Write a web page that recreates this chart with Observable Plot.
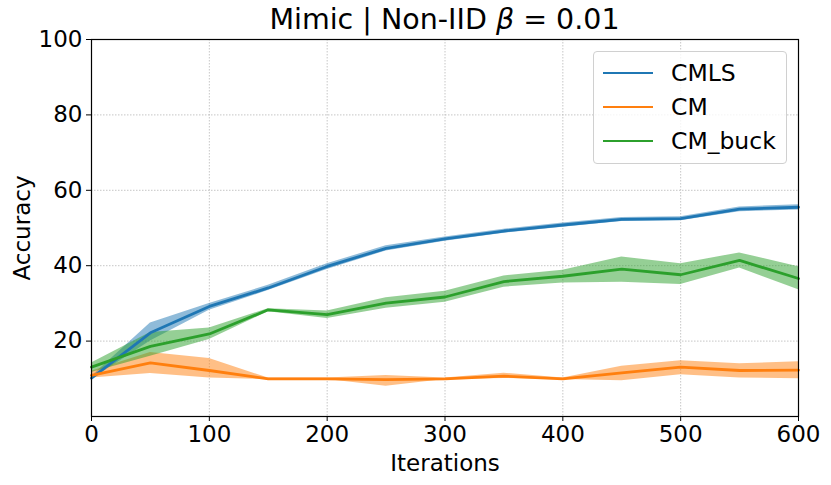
<!DOCTYPE html>
<html><head><meta charset="utf-8">
<script src="https://cdn.jsdelivr.net/npm/d3@7"></script>
<script src="https://cdn.jsdelivr.net/npm/@observablehq/plot@0.6"></script>
<style>
body{margin:0;font-family:"DejaVu Sans",sans-serif;background:#fff}
#wrap{position:relative;width:831px;height:485px}
#title{position:absolute;top:3px;left:91px;width:707px;text-align:center;font-size:28.5px;color:#000;line-height:34px}
#legend{position:absolute;left:593px;top:51px;width:194px;height:113px;border:1px solid #d0d0d0;border-radius:4px;background:rgba(255,255,255,0.8);box-sizing:border-box}
.row{position:absolute;left:0;height:30px;width:100%}
.sw{position:absolute;left:9px;width:50px;height:0;border-top:2.8px solid}
.lab{position:absolute;left:77px;font-size:23.5px;line-height:30px;top:0}
</style></head><body>
<div id="wrap">
<div id="chart"></div>
<div id="title">Mimic | Non-IID <i>β</i> = 0.01</div>
<div id="legend"></div>
</div>
<script>
const iters = [0,50,100,150,200,250,300,350,400,450,500,550,600];
const seriesNames = ["CMLS","CM","CM_buck"];
const seriesColors = ["#1f77b4","#ff7f0e","#2ca02c"];
const cmlsMean = [10.2,22.2,29.2,34.1,39.8,44.6,47.1,49.2,50.8,52.3,52.5,55.0,55.5];
const cmlsLo   = [9.8,20.0,28.2,33.4,39.0,43.9,46.5,48.6,50.2,51.7,51.9,54.3,54.8];
const cmlsHi   = [10.6,24.8,30.0,34.8,40.5,45.3,47.6,49.7,51.3,52.8,53.0,55.6,56.2];
const cmMean = [10.9,14.2,12.2,10.0,10.0,9.8,10.0,10.7,10.0,11.6,13.1,12.2,12.3];
const cmLo   = [10.2,11.4,10.2,9.8,9.8,8.0,9.8,10.1,9.8,9.5,11.1,10.2,10.0];
const cmHi   = [12.0,17.0,15.4,10.2,10.2,10.9,10.2,11.5,10.2,13.3,14.8,14.0,14.5];
const buckMean = [13.1,18.6,21.9,28.3,27.0,30.1,31.7,35.8,37.2,39.1,37.6,41.4,36.6];
const buckLo   = [11.7,16.0,20.4,27.8,26.0,28.7,30.3,34.3,35.4,35.6,35.0,39.4,33.6];
const buckHi   = [14.2,22.3,23.5,28.6,28.0,31.5,33.2,37.3,38.8,42.3,40.5,43.4,39.7];
const xTicks = [0,100,200,300,400,500,600];
const yTicks = [20,40,60,80,100];

const series = [[cmlsMean,cmlsLo,cmlsHi],[cmMean,cmLo,cmHi],[buckMean,buckLo,buckHi]];
const rows = [];
series.forEach(([m,lo,hi],k)=>iters.forEach((x,i)=>rows.push({s:seriesNames[k],x,y:m[i],lo:lo[i],hi:hi[i]})));

const marks = [
  Plot.gridX(xTicks,{stroke:"#b8b8b8",strokeOpacity:1,strokeDasharray:"1.5,1.5",strokeWidth:0.8}),
  Plot.gridY(yTicks,{stroke:"#b8b8b8",strokeOpacity:1,strokeDasharray:"1.5,1.5",strokeWidth:0.8}),
];
seriesNames.forEach((n,k)=>{
  const d = rows.filter(r=>r.s===n);
  marks.push(Plot.areaY(d,{x:"x",y1:"lo",y2:"hi",fill:seriesColors[k],fillOpacity:0.5}));
});
seriesNames.forEach((n,k)=>{
  const d = rows.filter(r=>r.s===n);
  marks.push(Plot.line(d,{x:"x",y:"y",stroke:seriesColors[k],strokeWidth:2.8}));
});
marks.push(Plot.axisX(xTicks,{tickSize:5,tickPadding:4,label:"Iterations",labelAnchor:"center",labelArrow:"none",labelOffset:54}));
marks.push(Plot.axisY(yTicks,{tickSize:5,tickPadding:4,label:"Accuracy",labelAnchor:"center",labelArrow:"none",labelOffset:78}));
marks.push(Plot.frame({stroke:"#000",strokeWidth:1.2}));

const chart = Plot.plot({
  width:831,height:485,
  marginLeft:91,marginRight:33,marginTop:39,marginBottom:69,
  style:{fontSize:"23px",fontFamily:"DejaVu Sans",color:"#000",background:"#fff"},
  x:{domain:[0,600]},
  y:{domain:[0,100]},
  marks
});
document.getElementById("chart").appendChild(chart);

const leg = document.getElementById("legend");
seriesNames.forEach((n,k)=>{
  const r = document.createElement("div");
  r.className="row"; r.style.top=(6+k*34)+"px";
  r.innerHTML=`<div class="sw" style="top:14px;border-color:${seriesColors[k]}"></div><div class="lab">${n}</div>`;
  leg.appendChild(r);
});
</script>
</body></html>
